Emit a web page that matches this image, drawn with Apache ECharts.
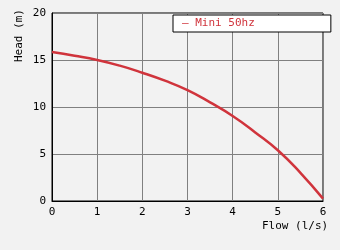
<!DOCTYPE html>
<html><head><meta charset="utf-8">
<script src="https://cdn.jsdelivr.net/npm/echarts@6/dist/echarts.min.js"></script>
<style>html,body{margin:0;padding:0;background:#f2f2f2}#c{width:340px;height:250px}</style>
</head><body><div id="c"></div>
<script>
const flow = [0, 0.5, 1, 1.5, 2, 2.5, 3, 3.5, 4, 4.5, 5, 5.5, 6];
const head = [15.85, 15.45, 15.0, 14.4, 13.65, 12.8, 11.8, 10.5, 9.05, 7.3, 5.4, 3.0, 0.25];
const seriesName = 'Mini 50hz';
const xTitle = 'Flow (l/s)';
const yTitle = 'Head (m)';
const font = '"DejaVu Sans Mono", monospace';
const chart = echarts.init(document.getElementById('c'), null, {renderer: 'canvas'});
chart.setOption({
  backgroundColor: '#f2f2f2',
  animation: false,
  grid: {left: 52, right: 17, top: 13, bottom: 49, show: true, borderColor: '#000', borderWidth: 1, backgroundColor: 'transparent'},
  xAxis: {type: 'value', min: 0, max: 6, interval: 1,
    axisLine: {show: true, lineStyle: {color: '#000', width: 1}}, axisTick: {show: false},
    axisLabel: {color: '#000', fontFamily: font, fontSize: 11, margin: 6},
    splitLine: {show: true, lineStyle: {color: '#808080', width: 1}}},
  yAxis: {type: 'value', min: 0, max: 20, interval: 5,
    axisLine: {show: true, lineStyle: {color: '#000', width: 1}}, axisTick: {show: false},
    axisLabel: {color: '#000', fontFamily: font, fontSize: 11, margin: 6},
    splitLine: {show: true, lineStyle: {color: '#808080', width: 1}}},
  legend: {show: true, left: 173, top: 15, icon: 'none', itemWidth: 0, itemHeight: 0, itemGap: 0,
    padding: [3, 76, 3, 4], backgroundColor: '#fff', borderColor: '#000', borderWidth: 1, borderRadius: 0,
    formatter: n => '– ' + n,
    textStyle: {color: '#d0343c', fontFamily: font, fontSize: 11, padding: 0}},
  graphic: [
    {type: 'text', left: 262, top: 221, style: {text: xTitle, fill: '#000', font: '11px ' + font}},
    {type: 'text', x: 14, y: 62, rotation: Math.PI / 2, style: {text: yTitle, fill: '#000', font: '11px ' + font}}
  ],
  series: [{name: seriesName, type: 'line', smooth: true, showSymbol: false,
    lineStyle: {color: '#d0343c', width: 2.5}, itemStyle: {color: '#d0343c'},
    data: flow.map((f, i) => [f, head[i]])}]
});
</script></body></html>
